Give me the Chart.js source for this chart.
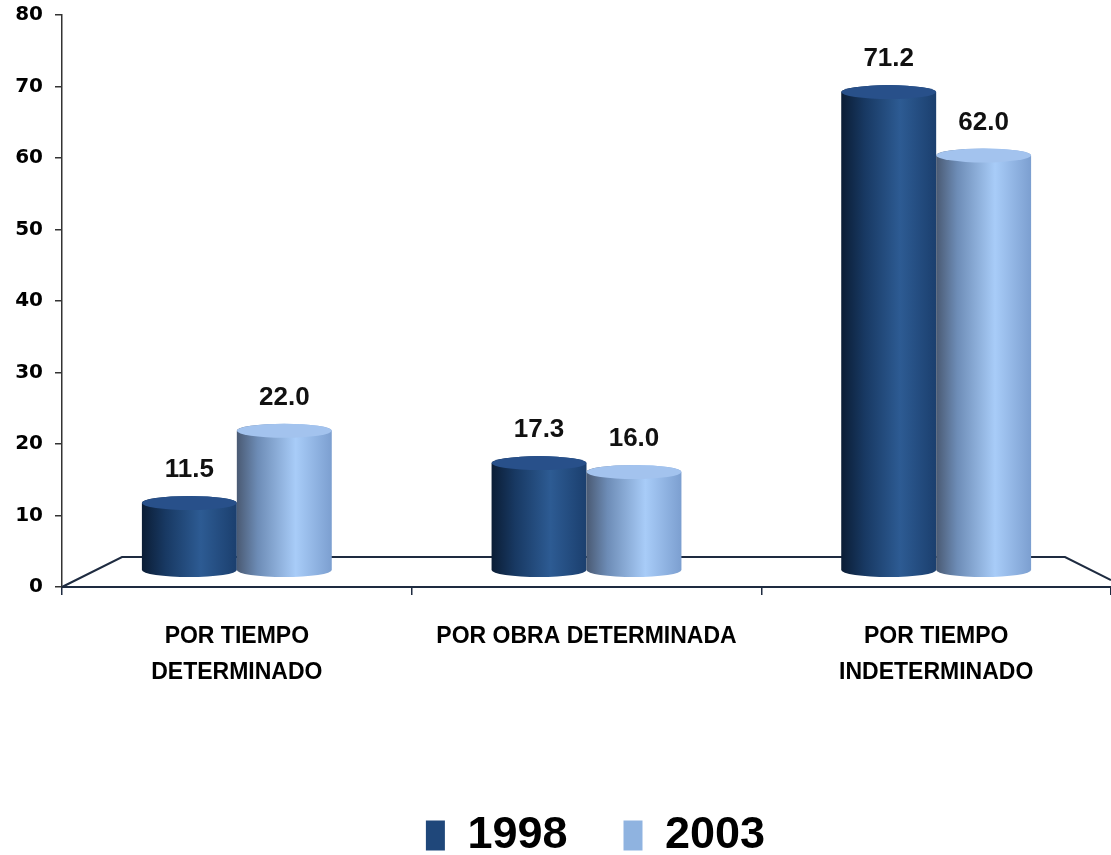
<!DOCTYPE html>
<html>
<head>
<meta charset="utf-8">
<script src="https://cdn.jsdelivr.net/npm/chart.js@4.4.0/dist/chart.umd.min.js"></script>
<style>
  html, body { margin: 0; padding: 0; background: #fff; }
  #wrap { width: 1111px; height: 855px; }
</style>
</head>
<body>
<div id="wrap"><canvas id="chart" width="1111" height="855"></canvas></div>
<script>
// chart values
const categories = [['POR TIEMPO', 'DETERMINADO'], 'POR OBRA DETERMINADA', ['POR TIEMPO', 'INDETERMINADO']];
const seriesNames = ['1998', '2003'];
const values1998 = [11.5, 17.3, 71.2];
const values2003 = [22.0, 16.0, 62.0];
const yMin = 0;
const yMax = 80;
const yStep = 10;

// cylinder shading per series
const shades = [
    {
        legend: '#1f477a',
        top: '#28508a',
        side: [[0, '#0b1d35'], [0.25, '#183963'], [0.62, '#2d5b93'], [1, '#1b3f6e']]
    },
    {
        legend: '#8fb3e0',
        top: '#a3c3ee',
        side: [[0, '#4a5a73'], [0.22, '#6d8cb6'], [0.62, '#a8ccf8'], [1, '#7c9fd0']]
    }
];

const H = 855;
const AREA_TOP = 15;
const AREA_BOTTOM = 587;
const narrowBold = '"Liberation Sans Narrow", "Liberation Sans", Arial, sans-serif';

const cylinders = {
    id: 'cylinders',
    beforeDatasetsDraw(chart) {
        // 3D floor outline
        const ctx = chart.ctx;
        const area = chart.chartArea;
        const y0 = chart.scales.y.getPixelForValue(0);
        ctx.save();
        ctx.strokeStyle = '#1e2b40';
        ctx.lineWidth = 2;
        ctx.beginPath();
        ctx.moveTo(area.left, y0);
        ctx.lineTo(area.left + 60, y0 - 30);
        ctx.lineTo(area.right - 46, y0 - 30);
        ctx.lineTo(area.right, y0 - 7);
        ctx.stroke();
        ctx.restore();
    },
    beforeDatasetDraw() {
        return false;
    },
    afterDatasetsDraw(chart) {
        const ctx = chart.ctx;
        const floorY = chart.scales.y.getPixelForValue(0) - 17;
        const ry = 7;
        ctx.save();
        chart.data.datasets.forEach((ds, di) => {
            const meta = chart.getDatasetMeta(di);
            const shade = shades[di];
            meta.data.forEach((bar, i) => {
                const w = bar.width;
                const x0 = bar.x - w / 2;
                const x1 = bar.x + w / 2;
                const top = bar.y;
                const g = ctx.createLinearGradient(x0, 0, x1, 0);
                shade.side.forEach(s => g.addColorStop(s[0], s[1]));
                ctx.beginPath();
                ctx.moveTo(x0, top);
                ctx.lineTo(x0, floorY);
                ctx.ellipse(bar.x, floorY, w / 2, ry, 0, Math.PI, 0, true);
                ctx.lineTo(x1, top);
                ctx.ellipse(bar.x, top, w / 2, ry, 0, 0, Math.PI, true);
                ctx.closePath();
                ctx.fillStyle = g;
                ctx.fill();

                ctx.beginPath();
                ctx.ellipse(bar.x, top, w / 2, ry, 0, 0, Math.PI * 2);
                ctx.fillStyle = shade.top;
                ctx.fill();

                // value label
                ctx.fillStyle = '#111';
                ctx.font = 'bold 26px "Liberation Sans", Arial, sans-serif';
                ctx.textAlign = 'center';
                ctx.textBaseline = 'middle';
                ctx.fillText(ds.data[i].toFixed(1), bar.x, top - 33);
            });
        });
        ctx.restore();
    }
};

const legendShift = {
    id: 'legendShift',
    afterLayout(chart) {
        const lg = chart.legend;
        lg.left += 40;
        lg.right += 40;
        lg.top += 13;
        lg.bottom += 13;
    }
};

new Chart(document.getElementById('chart'), {
    type: 'bar',
    data: {
        labels: categories,
        datasets: [
            { label: seriesNames[0], data: values1998, backgroundColor: shades[0].legend, yAxisID: 'y2' },
            { label: seriesNames[1], data: values2003, backgroundColor: shades[1].legend, yAxisID: 'y2' }
        ]
    },
    options: {
        responsive: false,
        animation: false,
        devicePixelRatio: 1,
        layout: { padding: { top: AREA_TOP, left: 0, right: 0, bottom: 0 } },
        datasets: { bar: { categoryPercentage: 0.543, barPercentage: 1 } },
        plugins: {
            tooltip: { enabled: false },
            legend: {
                position: 'bottom',
                labels: {
                    boxWidth: 19,
                    boxHeight: 30,
                    padding: 56,
                    color: '#000',
                    font: { family: narrowBold, size: 45, weight: 'bold' }
                }
            }
        },
        scales: {
            x: {
                grid: { drawOnChartArea: false, tickLength: 8, color: '#1e2b40', lineWidth: 1.5 },
                border: { color: '#1e2b40', width: 2 },
                ticks: {
                    color: '#000',
                    padding: 24,
                    maxRotation: 0,
                    autoSkip: false,
                    font: { family: narrowBold, size: 23, weight: 'bold', lineHeight: 1.55 }
                },
                afterFit(scale) {
                    scale.height = H - AREA_BOTTOM - scale.chart.legend.height;
                    scale.paddingLeft = 0;
                    scale.paddingRight = 0;
                }
            },
            y: {
                min: yMin,
                max: yMax,
                grid: { drawOnChartArea: false, tickLength: 7, color: '#333', lineWidth: 1.5 },
                border: { color: '#333', width: 1.5 },
                ticks: {
                    stepSize: yStep,
                    color: '#000',
                    padding: 12,
                    font: { family: '"DejaVu Sans", Verdana, sans-serif', size: 20, weight: 'bold' }
                },
                afterFit(scale) {
                    scale.width = 62;
                    scale.paddingTop = 0;
                    scale.paddingBottom = 0;
                }
            },
            y2: {
                display: false,
                min: -0.7,
                max: 82.4
            }
        }
    },
    plugins: [cylinders, legendShift]
});
</script>
</body>
</html>
